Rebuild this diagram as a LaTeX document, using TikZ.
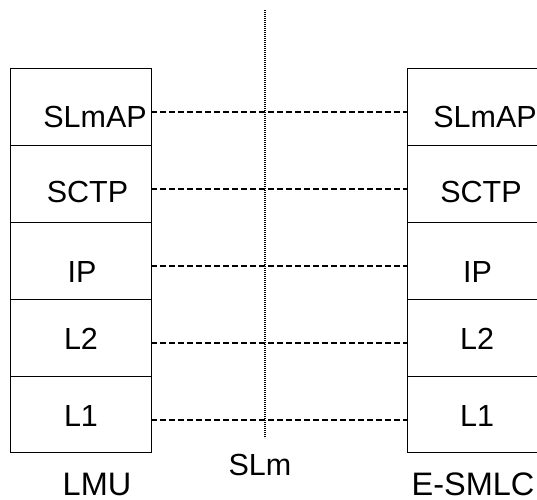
\documentclass[tikz,border=0pt]{standalone}
\usepackage{fontspec}
\setmainfont{Liberation Sans}
\usetikzlibrary{calc}
\begin{document}
\begin{tikzpicture}[x=1pt,y=-1pt,
  row/.style={draw=black,line width=1pt,minimum width=141pt,minimum height=77pt,inner sep=0pt,outer sep=0pt},
  lbl/.style={inner sep=0pt,font=\fontsize{30.5}{35}\selectfont},
  big/.style={inner sep=0pt,font=\fontsize{32.5}{37}\selectfont},
  conn/.style={line width=1.9pt,dash pattern=on 6pt off 3pt},
  divider/.style={line width=2.2pt,dash pattern=on 1.2pt off 0.8pt}]
\useasboundingbox (0,0) rectangle (537,499);
\clip (0,0) rectangle (537,499);
% left stack (LMU)
\node[row] (l1) at (80.5,106.5) {};
\node[row] (l2) at (80.5,183.5) {};
\node[row] (l3) at (80.5,260.5) {};
\node[row] (l4) at (80.5,337.5) {};
\node[row,minimum height=76pt] (l5) at (80.5,414) {};
% right stack (E-SMLC)
\node[row] (r1) at (477.5,106.5) {};
\node[row] (r2) at (477.5,183.5) {};
\node[row] (r3) at (477.5,260.5) {};
\node[row] (r4) at (477.5,337.5) {};
\node[row,minimum height=76pt] (r5) at (477.5,414) {};
% labels
\node[lbl] (tl1) at (95,117) {SLmAP};
\node[lbl] (tl2) at (87.5,192) {SCTP};
\node[lbl] (tl3) at (82,272) {IP};
\node[lbl] (tl4) at (81,339) {L2};
\node[lbl] (tl5) at (81,416) {L1};
\node[lbl] (tr1) at (485,117) {SLmAP};
\node[lbl] (tr2) at (481,192) {SCTP};
\node[lbl] (tr3) at (477.5,272) {IP};
\node[lbl] (tr4) at (477,339) {L2};
\node[lbl] (tr5) at (477,416) {L1};
\node[big] (lmu) at (97,484.5) {LMU};
\node[big] (esmlc) at (473,484.5) {E-SMLC};
\node[lbl] (slm) at (260,465) {SLm};
% connectors
\foreach \i in {1,...,4}{
  \draw[conn] ($(l\i.east)+(0,5.5)$) -- ($(r\i.west)+(0,5.5)$);
}
\draw[conn] ($(l5.east)+(0,6)$) -- ($(r5.west)+(0,6)$);
% divider
\coordinate (dtop) at (265,10);
\coordinate (dbot) at (265,438);
\draw[divider] (dtop) -- (dbot);
\end{tikzpicture}
\end{document}
